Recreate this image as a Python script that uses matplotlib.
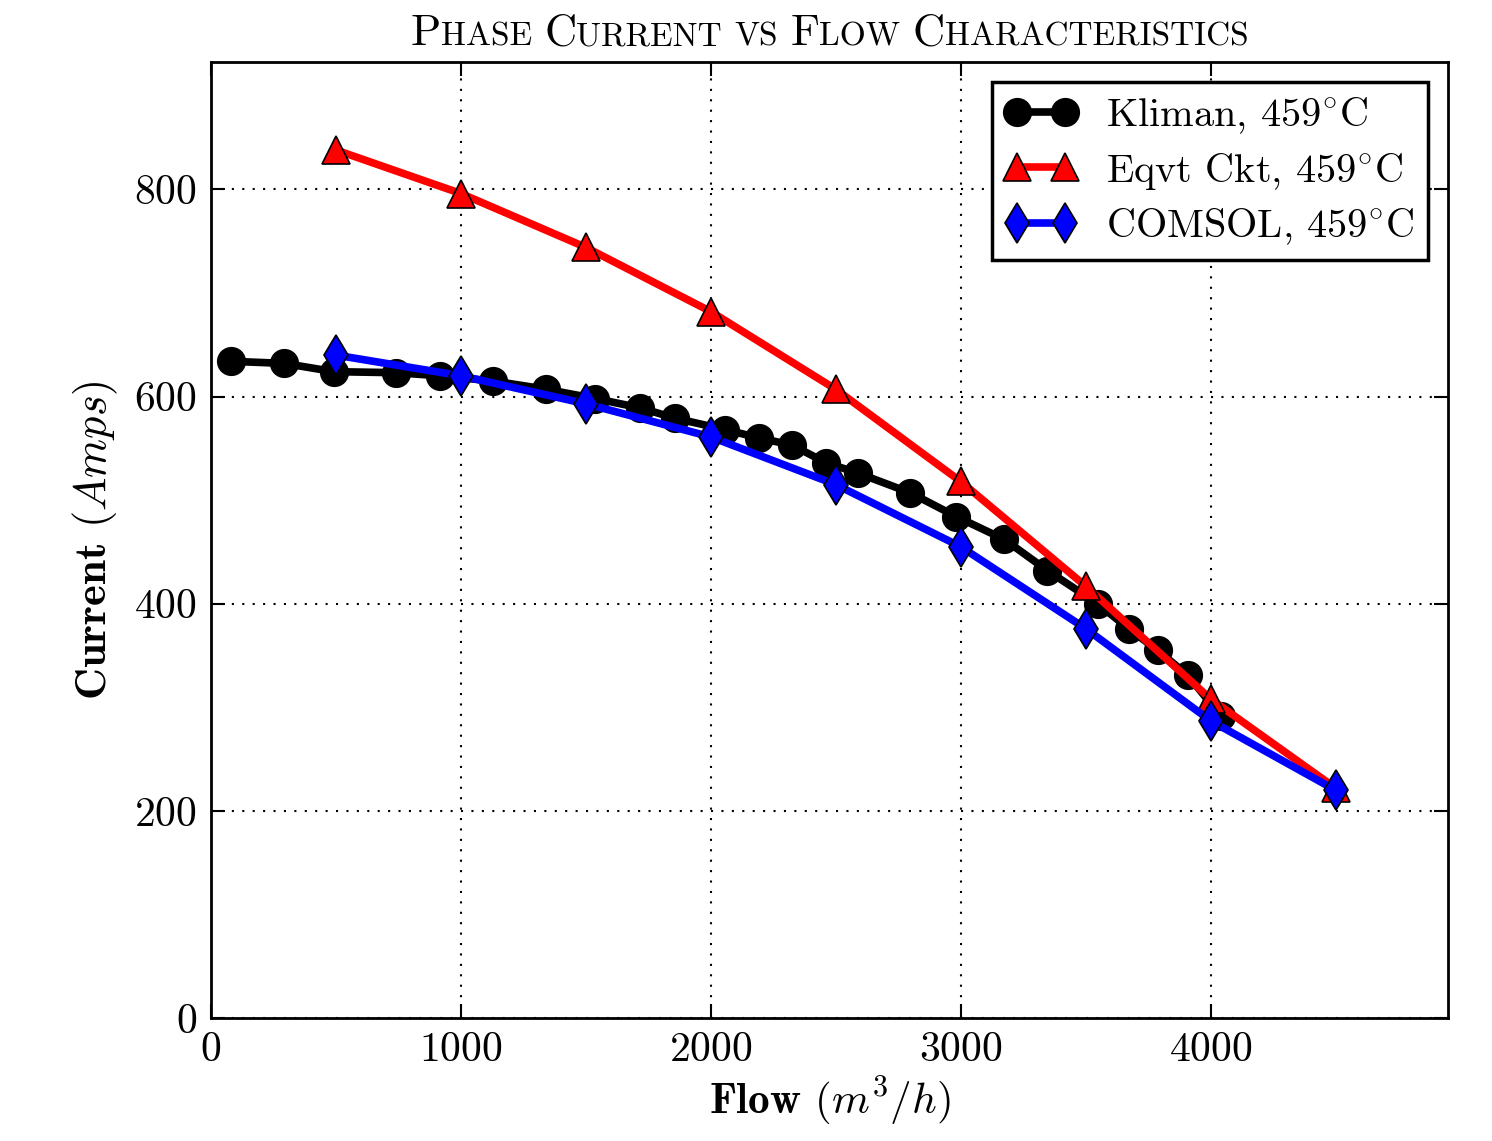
import numpy as np
import matplotlib
matplotlib.use("Agg")
import matplotlib.pyplot as plt
from matplotlib.offsetbox import TextArea, HPacker, AnchoredOffsetbox

plt.rcParams['font.family'] = 'cmr10'
plt.rcParams['mathtext.fontset'] = 'cm'
plt.rcParams['axes.formatter.use_mathtext'] = True

# Kliman measurements
kliman_flow = [80, 292, 492, 741, 917, 1129, 1341, 1538, 1718, 1858, 2058, 2194,
               2326, 2462, 2590, 2799, 2983, 3175, 3347, 3548, 3672, 3788, 3908, 4040]
kliman_amps = [634, 632, 624, 623, 620, 615, 607, 598, 589, 579, 568, 560,
               553, 536, 526, 507, 484, 462, 432, 400, 376, 355, 331, 292]

# equivalent circuit and COMSOL models
model_flow = [500, 1000, 1500, 2000, 2500, 3000, 3500, 4000, 4500]
eqvt_amps = [838, 796, 744, 682, 607, 518, 417, 308, 222]
comsol_amps = [640, 620, 593, 561, 515, 455, 376, 287, 220]

fig = plt.figure(figsize=(14.92, 11.41), dpi=100)
ax = fig.add_axes([0.1414, 0.1078, 0.9705 - 0.1414, 0.9457 - 0.1078])

ax.plot(kliman_flow, kliman_amps, color='black', lw=5.5, marker='o', ms=20,
        mfc='black', mec='black', mew=1, label=r'Kliman, $459^{\circ}$C')
ax.plot(model_flow, eqvt_amps, color='red', lw=5.5, marker='^', ms=20,
        mfc='red', mec='black', mew=1.2, label=r'Eqvt Ckt, $459^{\circ}$C')
ax.plot(model_flow, comsol_amps, color='blue', lw=5.5, marker='d', ms=20,
        mfc='blue', mec='black', mew=1.2, label=r'COMSOL, $459^{\circ}$C')

ax.set_xlim(0, 4950)
ax.set_ylim(0, 923)
ax.set_xticks([0, 1000, 2000, 3000, 4000])
ax.set_yticks([0, 200, 400, 600, 800])
ax.grid(True, color='black', linestyle=(0, (1, 4)), linewidth=1.5)
ax.tick_params(direction='in', top=True, right=True, length=10, width=1.5,
               labelsize=30, pad=10)
for s in ax.spines.values():
    s.set_linewidth(2)

ax.set_xlabel(r'Flow $(m^3/h)$', fontsize=31, family='cmb10', labelpad=4)
ax.set_ylabel(r'Current $(Amps)$', fontsize=32, family='cmb10', labelpad=10)

leg = ax.legend(loc='upper right', numpoints=2, fontsize=29, fancybox=False,
                framealpha=1, edgecolor='black', handlelength=1.79,
                borderpad=0.33, labelspacing=0.36, handletextpad=0.72,
                borderaxespad=0.5)
leg.get_frame().set_linewidth(2.5)

# small caps title
big, small = 32, 24
words = [[('P', big), ('HASE', small)],
         [('C', big), ('URRENT', small)],
         [('VS', small)],
         [('F', big), ('LOW', small)],
         [('C', big), ('HARACTERISTICS', small)]]
boxes = []
for w in words:
    parts = [TextArea(t, textprops=dict(fontsize=sz, family='cmr10')) for t, sz in w]
    boxes.append(HPacker(children=parts, align='baseline', pad=0, sep=0))
title = HPacker(children=boxes, align='baseline', pad=0, sep=9)
anchored = AnchoredOffsetbox(loc='lower center', child=title, pad=0, frameon=False,
                             bbox_to_anchor=(0.5, 1.008), bbox_transform=ax.transAxes,
                             borderpad=0)
ax.add_artist(anchored)

fig.savefig('out.png', dpi=100)
